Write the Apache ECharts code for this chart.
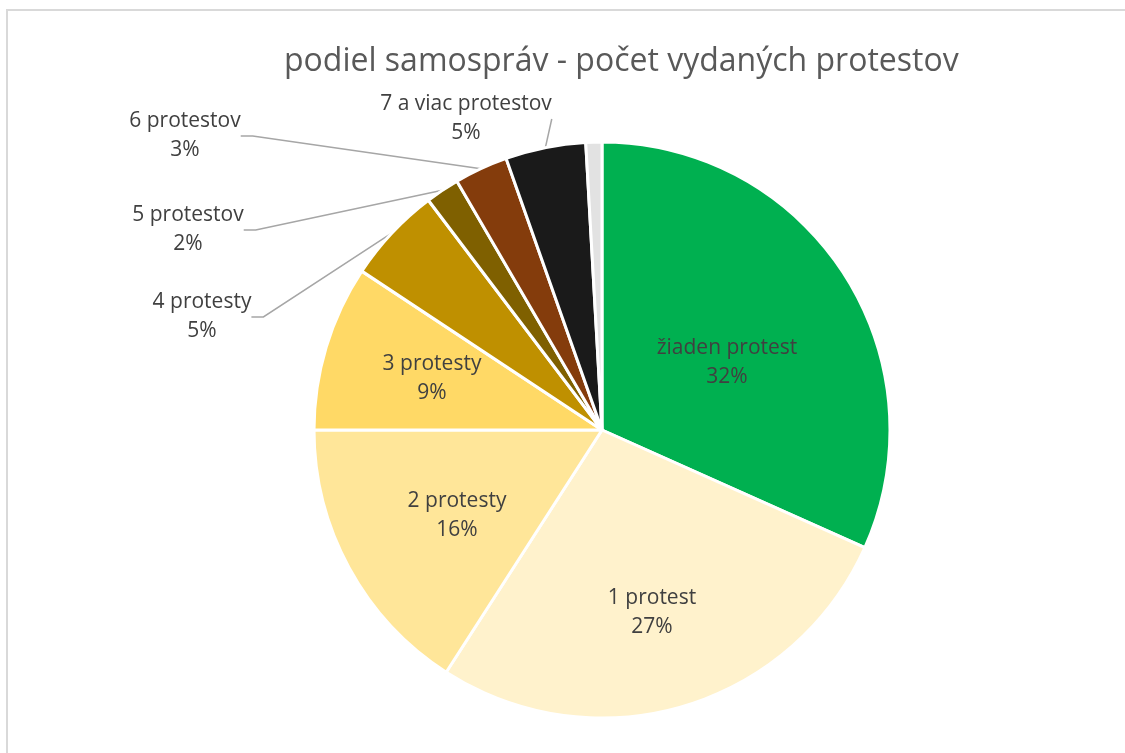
<!DOCTYPE html>
<html>
<head>
<meta charset="utf-8">
<title>podiel samospráv</title>
<script src="https://cdn.jsdelivr.net/npm/echarts@6/dist/echarts.min.js"></script>
<style>
    html, body { margin: 0; padding: 0; background: #fff; overflow: hidden; }
    #frame { position: absolute; left: 6px; top: 9px; width: 1400px; height: 1000px; border: 2px solid #d9d9d9; box-sizing: border-box; }
    #chart { position: absolute; left: 0; top: 0; width: 1125px; height: 753px; }
</style>
</head>
<body>
<div id="frame"></div>
<div id="chart"></div>
<script>
// kategórie a podiely (v %)
const categories = ['žiaden protest', '1 protest', '2 protesty', '3 protesty', '4 protesty', '5 protestov', '6 protestov', '7 a viac protestov', ''];
const shares = [31.7, 27.4, 15.9, 9.3, 5.4, 1.9, 3.0, 4.5, 0.9];
const colors = ['#00B050', '#FFF2CC', '#FFE699', '#FFD966', '#BF9000', '#7F6000', '#843C0C', '#1A1A1A', '#E2E2E2'];

// rozloženie popisov (posun od stredu koláča, px)
const center = [602, 430];
const pieRadius = 288;
const labelOffsets = [[125, -67], [50, 183], [-145, 86], [-170, -51], [-400, -113], [-414, -200], [-417, -294], [-136, -311], null];
const outsideLabel = [false, false, false, false, true, true, true, true, false];

const chart = echarts.init(document.getElementById('chart'));

const pieData = categories.map((name, i) => {
    const item = {
        name: name,
        value: shares[i],
        itemStyle: { color: colors[i] }
    };
    if (!labelOffsets[i]) {
        item.label = { show: false };
        item.labelLine = { show: false };
    } else if (!outsideLabel[i]) {
        item.labelLine = { show: false };
    } else if (i === 7) {
        item.labelLine = { length2: 0 };
    }
    return item;
});

chart.setOption({
    animation: false,
    title: {
        text: 'podiel samospráv - počet vydaných protestov',
        left: 279,
        top: 41,
        textStyle: {
            fontFamily: 'Open Sans',
            fontSize: 32,
            fontWeight: 'normal',
            color: '#595959'
        }
    },
    series: [{
        type: 'pie',
        center: center,
        radius: pieRadius,
        startAngle: 90,
        clockwise: true,
        avoidLabelOverlap: false,
        emphasis: { disabled: true },
        itemStyle: {
            borderColor: '#fff',
            borderWidth: 3
        },
        label: {
            show: true,
            position: 'outside',
            fontFamily: 'Open Sans',
            fontSize: 21,
            lineHeight: 29,
            color: '#404040',
            formatter: p => p.name + '\n' + Math.round(p.percent) + '%'
        },
        labelLine: {
            show: true,
            length: 20,
            length2: 12,
            lineStyle: { color: '#A6A6A6', width: 1.5 }
        },
        labelLayout: params => {
            const off = labelOffsets[params.dataIndex];
            if (!off) return {};
            return {
                x: center[0] + off[0],
                y: center[1] + off[1],
                align: 'center',
                verticalAlign: 'middle'
            };
        },
        data: pieData
    }]
});
</script>
</body>
</html>
